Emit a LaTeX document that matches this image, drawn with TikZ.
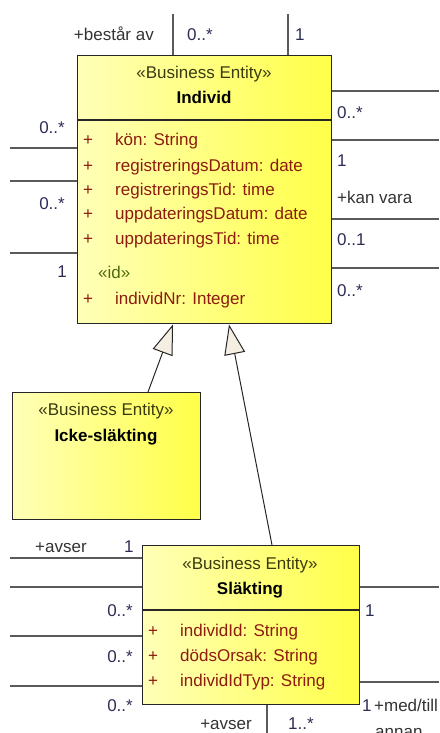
\documentclass[tikz,border=0pt]{standalone}
\usepackage{fontspec}
\setmainfont{Liberation Sans}
\usetikzlibrary{arrows.meta}

\definecolor{boxL}{HTML}{FFFFB8}
\definecolor{boxR}{HTML}{FFFF48}
\definecolor{boxEdge}{HTML}{262626}
\definecolor{wire}{HTML}{5A5A5A}
\definecolor{attr}{HTML}{8E1B10}
\definecolor{stereo}{HTML}{3A3A10}
\definecolor{idtag}{HTML}{4F6A10}
\definecolor{mult}{HTML}{2C2C55}
\definecolor{role}{HTML}{333333}
\definecolor{tipfill}{HTML}{F4EFE2}

\tikzset{
  classbox/.style={draw=boxEdge, line width=1.4pt, left color=boxL, right color=boxR,
    inner sep=0pt, anchor=north west},
  divider/.style={draw=boxEdge, line width=1.4pt},
  assoc/.style={draw=wire, line width=1.3pt},
  gen/.style={draw=boxEdge, line width=1pt,
    -{Triangle[open, length=30pt, width=21pt, fill=tipfill, line width=1pt]}},
  txt/.style={font=\fontsize{17}{19}\selectfont, inner sep=0pt},
  stereotxt/.style={txt, text=stereo, anchor=base},
  nametxt/.style={txt, font=\fontsize{17}{19}\selectfont\bfseries, anchor=base},
  attrtxt/.style={txt, text=attr, anchor=base west},
  plus/.style={txt, text=attr, anchor=base},
  multw/.style={txt, text=mult, anchor=base west},
  multe/.style={txt, text=mult, anchor=base east},
  rolew/.style={txt, text=role, anchor=base west},
  rolee/.style={txt, text=role, anchor=base east},
}

\begin{document}
\begin{tikzpicture}[x=1pt, y=-1pt]
\useasboundingbox (0,0) rectangle (439,733);

% ---------- Individ ----------
\node[classbox, minimum width=254pt, minimum height=268pt] (individ) at (77,55) {};
\draw[divider] (77,120) -- (331,120);
\node[stereotxt] (individS) at (204,79) {«Business Entity»};
\node[nametxt] (individN) at (204,103) {Individ};
\foreach \y/\t [count=\i] in {146/{kön: String},171/{registreringsDatum: date},
    195/{registreringsTid: time},219/{uppdateringsDatum: date},244/{uppdateringsTid: time}}{
  \node[plus] (ip\i) at (88,\y) {+};
  \node[attrtxt] (ia\i) at (115,\y) {\t};
}
\node[txt, text=idtag, anchor=base west] (idtag) at (98,278) {«id»};
\node[plus] (ip6) at (88,304) {+};
\node[attrtxt] (ia6) at (115,304) {individNr: Integer};

% ---------- Icke-släkting ----------
\node[classbox, minimum width=188pt, minimum height=127pt] (icke) at (12,392) {};
\node[stereotxt] (ickeS) at (106,415) {«Business Entity»};
\node[nametxt] (ickeN) at (106,441) {Icke-släkting};

% ---------- Släkting ----------
\node[classbox, minimum width=217pt, minimum height=159pt] (slakt) at (142,545) {};
\draw[divider] (142,610) -- (359,610);
\node[stereotxt] (slaktS) at (250,569) {«Business Entity»};
\node[nametxt] (slaktN) at (250,594) {Släkting};
\foreach \y/\t [count=\i] in {636/{individId: String},661/{dödsOrsak: String},686/{individIdTyp: String}}{
  \node[plus] (sp\i) at (153,\y) {+};
  \node[attrtxt] (sa\i) at (180,\y) {\t};
}

% ---------- generalisations ----------
\draw[gen] ([xshift=136pt]icke.north west) -- ([xshift=96pt]individ.south west);
\draw[gen] ([xshift=130pt]slakt.north west) -- ([xshift=152pt]individ.south west);

% ---------- associations of Individ ----------
\coordinate (top1) at (173,14);
\coordinate (top2) at (288,14);
\draw[assoc] (top1) -- (top1 |- individ.north);
\draw[assoc] (top2) -- (top2 |- individ.north);
\node[rolee] (bestar) at (154,41) {+består av};
\node[multw] (mTop1) at (187,41) {0..*};
\node[multw] (mTop2) at (295,41) {1};

\foreach \y [count=\i] in {91,140,219,268}{
  \coordinate (r\i) at (439,\y);
  \draw[assoc] (r\i -| individ.east) -- (r\i);
}
\node[multw] (mR1) at (337,118) {0..*};
\node[multw] (mR2) at (337,166) {1};
\node[rolew] (kanvara) at (337,203) {+kan vara};
\node[multw] (mR3) at (337,245) {0..1};
\node[multw] (mR4) at (337,296) {0..*};

\foreach \y [count=\i] in {148,181,253}{
  \coordinate (l\i) at (10,\y);
  \draw[assoc] (l\i) -- (l\i -| individ.west);
}
\node[multe] (mL1) at (65,133) {0..*};
\node[multe] (mL2) at (65,209) {0..*};
\node[multe] (mL3) at (67,277) {1};

% ---------- associations of Släkting ----------
\foreach \y [count=\i] in {558,587,636,686}{
  \coordinate (sl\i) at (10,\y);
  \draw[assoc] (sl\i) -- (sl\i -| slakt.west);
}
\node[rolew] (avser1) at (35,552) {+avser};
\node[multw] (mS0) at (124,552) {1};
\node[multe] (mS1) at (133,616) {0..*};
\node[multe] (mS2) at (133,662) {0..*};
\node[multe] (mS3) at (133,711) {0..*};

\foreach \y [count=\i] in {587,682}{
  \coordinate (sr\i) at (439,\y);
  \draw[assoc] (sr\i -| slakt.east) -- (sr\i);
}
\node[multw] (mSR1) at (365,616) {1};
\node[multw] (mSR2) at (362,711) {1};
\node[rolew] (medtill) at (374,711) {+med/till};
\node[rolew] (annan) at (375,737) {annan};

\coordinate (bot) at (267,733);
\draw[assoc] (bot |- slakt.south) -- (bot);
\node[rolee] (avser2) at (252,729) {+avser};
\node[multw] (mB) at (288,729) {1..*};
\end{tikzpicture}
\end{document}
